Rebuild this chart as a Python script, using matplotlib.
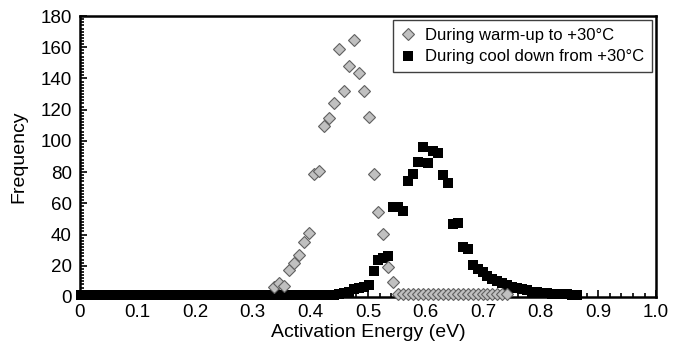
import numpy as np
import matplotlib.pyplot as plt
from matplotlib.ticker import MultipleLocator

plt.rcParams['font.family'] = ['Liberation Sans', 'DejaVu Sans']

# centros dos intervalos de energia (eV)
e0 = 0.0022
de = 0.0086
energy = np.round(e0 + de*np.arange(101), 4)

# aquecimento ate +30C: pontos a partir do intervalo 39 ate 86
warm_start = 39
warm_freq = [6.6, 8.8, 7.0, 17, 22, 27, 35, 41, 79, 81,
             109.5, 114.5, 124, 158.7, 132, 148, 164.6, 143.3, 132, 115.5,
             78.6, 54.3, 40.4, 19, 9.4,
             2, 2, 2, 2, 2, 2, 2, 2, 2, 2, 2, 2,
             2, 2, 2, 2, 2, 2, 2, 2, 2, 2, 2]

# resfriamento a partir de +30C: todos os intervalos
cool_freq = [1.5, 1.5, 1.5, 1.5, 1.5, 1.5, 1.5, 1.5, 1.5, 1.5,
             1.5, 1.5, 1.5, 1.5, 1.5, 1.5, 1.5, 1.5, 1.5, 1.5,
             1.5, 1.5, 1.5, 1.5, 1.5, 1.5, 1.5, 1.5, 1.5, 1.5,
             1.5, 1.5, 1.5, 1.5, 1.5, 1.5, 1.5, 1.5, 1.5, 1.5,
             1.5, 1.5, 1.5, 1.5, 1.5, 1.5, 1.5, 1.5, 1.5, 1.5,
             1.5, 1.5, 2, 2.8, 3.5, 5, 6, 6.6, 7.7, 16.5,
             23.5, 25, 26.5, 57.8, 57.8, 55.3, 74.5, 79, 86.7, 96.3,
             85.6, 93.5, 92.5, 78, 73, 46.5, 47.5, 32, 31, 20.5,
             18, 16, 13.5, 11.5, 10, 9, 7.7, 6.6, 5.5, 4.8,
             4.4, 3.5, 3.2, 2.8, 2.5, 2.2, 2, 1.8, 1.6, 1.5,
             1.5]

xticks = [0, 0.1, 0.2, 0.3, 0.4, 0.5, 0.6, 0.7, 0.8, 0.9, 1.0]
xtick_labels = ['0', '0.1', '0.2', '0.3', '0.4', '0.5', '0.6', '0.7', '0.8', '0.9', '1.0']

warm_label = 'During warm-up to +30\u00b0C'
cool_label = 'During cool down from +30\u00b0C'

fig = plt.figure(figsize=(6.86, 3.52), dpi=100)
ax = fig.add_axes([0.1166, 0.1563, 0.8397, 0.7982])

warm_e = energy[warm_start:warm_start+len(warm_freq)]
ax.plot(energy, cool_freq, ls='none', marker='s', ms=7.4, mfc='k', mec='k',
        mew=0, label=cool_label, zorder=3, clip_on=False)
ax.plot(warm_e, warm_freq, ls='none', marker='D', ms=6.4, mfc='#c0c0c0',
        mec='#606060', mew=0.8, label=warm_label, zorder=4, clip_on=False)

ax.set_xlim(0, 1.0)
ax.set_ylim(0, 180)
ax.set_xticks(xticks)
ax.set_xticklabels(xtick_labels)
ax.xaxis.set_minor_locator(MultipleLocator(0.02))
ax.yaxis.set_major_locator(MultipleLocator(20))
ax.yaxis.set_minor_locator(MultipleLocator(2))
ax.tick_params(which='both', direction='in', top=False, right=False,
               labelsize=13.5, width=1.2)
ax.tick_params(axis='x', which='major', pad=5)
ax.tick_params(axis='y', which='major', pad=6)
ax.tick_params(which='major', length=5)
ax.tick_params(which='minor', length=3)
for s in ax.spines.values():
    s.set_linewidth(1.8)

ax.set_xlabel('Activation Energy (eV)', fontsize=14, labelpad=2)
ax.set_ylabel('Frequency', fontsize=14, labelpad=9)

h, l = ax.get_legend_handles_labels()
leg = ax.legend(h[::-1], l[::-1], loc='upper right', fontsize=12,
                frameon=True, fancybox=False, edgecolor='#404040',
                framealpha=1, handlelength=0.9, handletextpad=0.6,
                borderpad=0.45, labelspacing=0.4, borderaxespad=0.25)
leg.get_frame().set_linewidth(1.0)

fig.savefig('out.png', dpi=100)
